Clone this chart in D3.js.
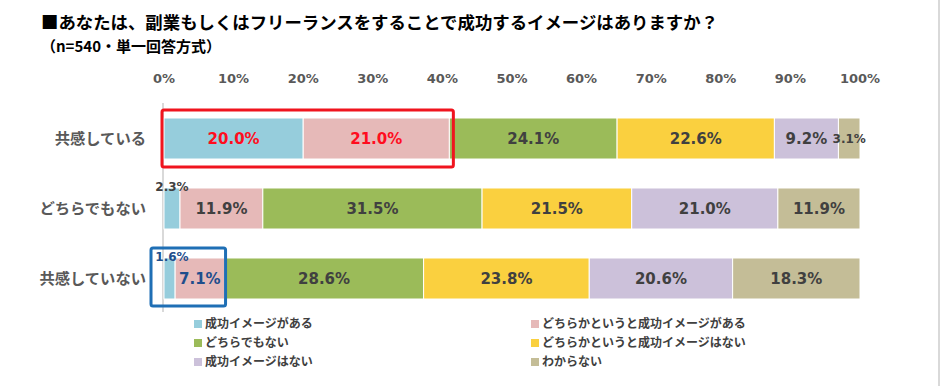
<!DOCTYPE html>
<html lang="ja">
<head>
<meta charset="utf-8">
<title>成功イメージ</title>
<script src="https://cdn.jsdelivr.net/npm/d3@7"></script>
<style>
  body { margin: 0; background: #fff; }
  text { font-family: "DejaVu Sans", "Noto Sans CJK JP", sans-serif; font-weight: bold; }
  .jp { font-family: "Noto Sans CJK JP", sans-serif; }
</style>
</head>
<body>
<script>
// data
var categories = ["共感している", "どちらでもない", "共感していない"];
var seriesNames = ["成功イメージがある", "どちらかというと成功イメージがある", "どちらでもない",
                   "どちらかというと成功イメージはない", "成功イメージはない", "わからない"];
var seriesColors = ["#96cddc", "#e6b9b8", "#9bbb59", "#fad03f", "#ccc1da", "#c4bd97"];
var values = [
  [20.0, 21.0, 24.1, 22.6, 9.2, 3.1],
  [2.3, 11.9, 31.5, 21.5, 21.0, 11.9],
  [1.6, 7.1, 28.6, 23.8, 20.6, 18.3]
];
var ticks = [0, 10, 20, 30, 40, 50, 60, 70, 80, 90, 100];

var W = 940, H = 386;
var svg = d3.select("body").append("svg").attr("width", W).attr("height", H);

svg.append("rect").attr("x", 938).attr("y", 0).attr("width", 2).attr("height", H).attr("fill", "#d9d9d9");

// title
svg.append("text").attr("class", "jp").attr("x", 41).attr("y", 29)
  .style("font-size", "17.4px").attr("fill", "#000")
  .text("■あなたは、副業もしくはフリーランスをすることで成功するイメージはありますか？");
svg.append("text").attr("class", "jp").attr("x", 41).attr("y", 52)
  .style("font-size", "15px").attr("fill", "#000")
  .text("（n=540・単一回答方式）");

var x = d3.scaleLinear().domain([0, 100]).range([164, 860]);
var y = d3.scaleBand().domain(categories).range([90, 327]).paddingInner(0.414).paddingOuter(0.4);

// axis line
svg.append("line").attr("x1", x(0) - 1).attr("x2", x(0) - 1).attr("y1", 103).attr("y2", 312)
  .attr("stroke", "#d9d9d9").attr("stroke-width", 2);

// tick labels
svg.append("g").selectAll("text").data(ticks).enter().append("text")
  .attr("x", function (d) { return x(d); })
  .attr("y", 83)
  .attr("text-anchor", "middle")
  .style("font-size", "13px")
  .attr("fill", "#595959")
  .text(function (d) { return d + "%"; });

// category labels
svg.append("g").selectAll("text").data(categories).enter().append("text")
  .attr("class", "jp")
  .attr("x", 146)
  .attr("y", function (d) { return y(d) + y.bandwidth() / 2; })
  .attr("dy", "0.36em")
  .attr("text-anchor", "end")
  .style("font-size", "15.3px")
  .attr("fill", "#595959")
  .text(function (d) { return d; });

// stacked segments
var segs = [];
values.forEach(function (row, i) {
  var acc = 0;
  row.forEach(function (v, j) {
    segs.push({ cat: categories[i], row: i, s: j, v: v, x0: acc, x1: acc + v });
    acc += v;
  });
});

svg.append("g").selectAll("rect").data(segs).enter().append("rect")
  .attr("x", function (d) { return x(d.x0); })
  .attr("y", function (d) { return y(d.cat); })
  .attr("width", function (d) { return Math.max(0, x(Math.min(d.x1, 100)) - x(d.x0)); })
  .attr("height", y.bandwidth())
  .attr("fill", function (d) { return seriesColors[d.s]; })
  .attr("stroke", "#fff").attr("stroke-width", 1);

function labelColor(d) {
  if (d.row === 0 && d.s < 2) return "#ff0d1e";
  if (d.row === 2 && d.s < 2) return "#1f4e8c";
  return "#404040";
}

svg.append("g").selectAll("text").data(segs).enter().append("text")
  .attr("x", function (d) {
    if (d.v < 3) return x(0) + 8;
    return x((d.x0 + Math.min(d.x1, 100)) / 2);
  })
  .attr("y", function (d) {
    var base = y(d.cat);
    if (d.v < 3) return base - 1;
    return base + y.bandwidth() / 2;
  })
  .attr("dy", "0.36em")
  .attr("text-anchor", "middle")
  .style("font-size", function (d) { return d.v < 5 ? "12px" : "15px"; })
  .attr("fill", labelColor)
  .text(function (d) { return d.v.toFixed(1) + "%"; });

// highlight boxes
var r0 = values[0][0] + values[0][1];
svg.append("rect")
  .attr("x", x(0) - 2).attr("y", y(categories[0]) - 8)
  .attr("width", x(r0) - x(0) + 6).attr("height", y.bandwidth() + 16)
  .attr("rx", 2)
  .attr("fill", "none").attr("stroke", "#f0141e").attr("stroke-width", 3);

var r2 = values[2][0] + values[2][1];
svg.append("rect")
  .attr("x", x(0) - 13).attr("y", y(categories[2]) - 10)
  .attr("width", x(r2) - x(0) + 14).attr("height", y.bandwidth() + 17)
  .attr("rx", 2)
  .attr("fill", "none").attr("stroke", "#1f6fb5").attr("stroke-width", 3);

// legend
var legendPos = [[194, 324], [531, 324], [194, 343], [531, 343], [194, 362], [531, 362]];
var lg = svg.append("g").selectAll("g").data(seriesNames).enter().append("g")
  .attr("transform", function (d, i) { return "translate(" + legendPos[i][0] + "," + legendPos[i][1] + ")"; });
lg.append("rect").attr("x", 0).attr("y", -4).attr("width", 8).attr("height", 8)
  .attr("fill", function (d, i) { return seriesColors[i]; });
lg.append("text").attr("class", "jp").attr("x", 11).attr("dy", "0.36em")
  .style("font-size", "12px").attr("fill", "#404040")
  .text(function (d) { return d; });
</script>
</body>
</html>
